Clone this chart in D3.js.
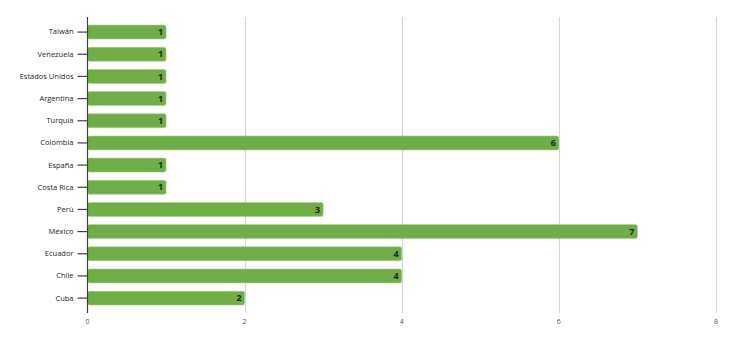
<!DOCTYPE html>
<html>
<head>
<meta charset="utf-8">
<script src="https://cdn.jsdelivr.net/npm/d3@7"></script>
<style>
  body { margin: 0; background: #fff; }
  svg { display: block; font-family: "Open Sans", sans-serif; }
</style>
</head>
<body>
<div id="chart"></div>
<script>
var countries = ['Taiwán', 'Venezuela', 'Estados Unidos', 'Argentina', 'Turquía', 'Colombia', 'España',
                 'Costa Rica', 'Perú', 'México', 'Ecuador', 'Chile', 'Cuba'];
var counts = [1, 1, 1, 1, 1, 6, 1, 1, 3, 7, 4, 4, 2];
var xTicks = [0, 2, 4, 6, 8];

var width = 735, height = 343;
var plot = {left: 87.5, right: 716, top: 17, bottom: 313};

var svg = d3.select('#chart').append('svg')
    .attr('width', width)
    .attr('height', height);

var x = d3.scaleLinear().domain([0, 8]).range([plot.left, plot.right]);
var y = d3.scaleBand().domain(countries).range([21, 309.2]).paddingInner(0.37).paddingOuter(0.185);

// grid
svg.append('g').selectAll('line')
    .data(xTicks.slice(1))
    .enter().append('line')
    .attr('x1', d => Math.round(x(d)) + 0.5)
    .attr('x2', d => Math.round(x(d)) + 0.5)
    .attr('y1', plot.top)
    .attr('y2', plot.bottom)
    .attr('stroke', '#d9d9d9')
    .attr('stroke-width', 1.2);

// x tick labels
svg.append('g').selectAll('text')
    .data(xTicks)
    .enter().append('text')
    .attr('x', d => x(d))
    .attr('y', 324)
    .attr('text-anchor', 'middle')
    .attr('font-size', 7)
    .attr('fill', '#595959')
    .text(d => d);

// bars
var rows = countries.map((c, i) => ({name: c, value: counts[i]}));
svg.append('g').selectAll('rect')
    .data(rows)
    .enter().append('rect')
    .attr('x', x(0))
    .attr('y', d => y(d.name))
    .attr('width', d => x(d.value) - x(0))
    .attr('height', y.bandwidth())
    .attr('rx', 2)
    .attr('fill', '#70ad47')
    .attr('stroke', '#a9d18e')
    .attr('stroke-width', 0.6);

// value labels
svg.append('g').selectAll('text')
    .data(rows)
    .enter().append('text')
    .attr('x', d => x(d.value) - 3)
    .attr('y', d => y(d.name) + y.bandwidth() / 2)
    .attr('dy', '0.35em')
    .attr('text-anchor', 'end')
    .attr('font-size', 9)
    .attr('font-weight', 'bold')
    .attr('fill', '#1e2a14')
    .text(d => d.value);

// y axis
var yAxis = d3.axisLeft(y).tickSize(10).tickPadding(4);
var gy = svg.append('g')
    .attr('transform', 'translate(' + plot.left + ',0)')
    .call(yAxis);
gy.select('.domain').remove();
gy.selectAll('.tick line').attr('stroke', '#404040').attr('stroke-width', 1.2);
gy.selectAll('.tick text').attr('font-size', 7.5).attr('fill', '#262626')
    .attr('font-family', '"Open Sans", sans-serif');
svg.append('line')
    .attr('x1', plot.left).attr('x2', plot.left)
    .attr('y1', plot.top).attr('y2', plot.bottom)
    .attr('stroke', '#404040')
    .attr('stroke-width', 1.2);
</script>
</body>
</html>
